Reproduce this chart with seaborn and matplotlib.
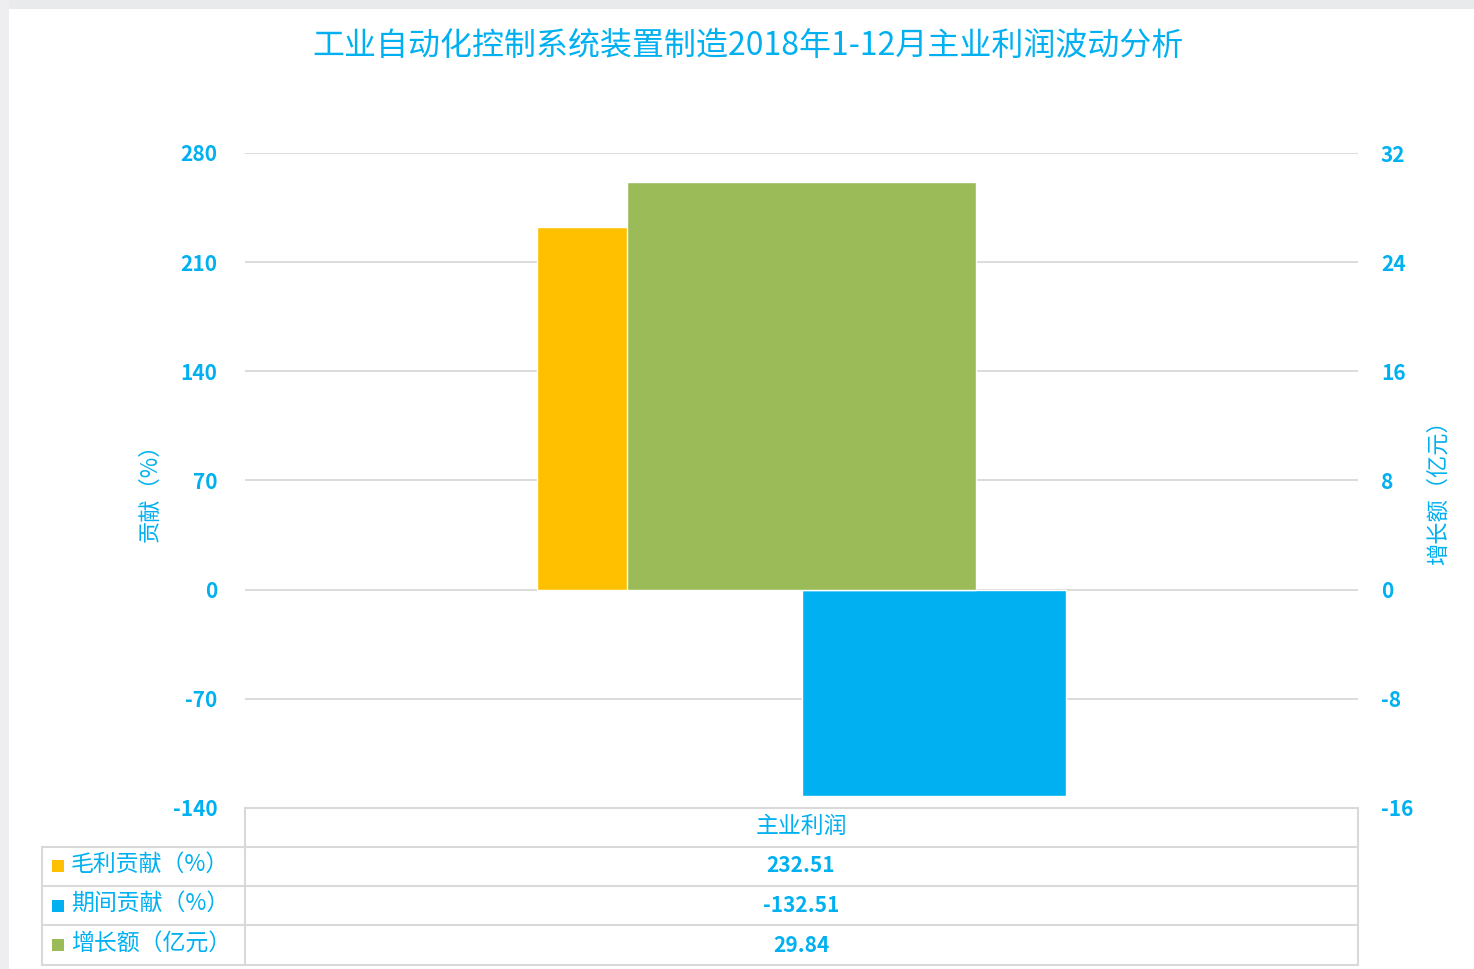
import pandas as pd
import seaborn as sns
import matplotlib.pyplot as plt
from matplotlib.lines import Line2D
from matplotlib.patches import Rectangle

# 数据
categories = ['主业利润']
series_left = ['毛利贡献（%）', '期间贡献（%）']
values_left = [232.51, -132.51]
series_right = ['增长额（亿元）']
values_right = [29.84]
colors = ['#FFC000', '#00B0F0', '#9BBB59']
left_ticks = [-140, -70, 0, 70, 140, 210, 280]
right_ticks = [-16, -8, 0, 8, 16, 24, 32]

txt = '#00B0F0'
grid_c = '#D9D9D9'

sns.set_style('white')
plt.rcParams['font.family'] = ['Noto Sans CJK SC', 'DejaVu Sans']
plt.rcParams['axes.unicode_minus'] = False

W, H = 1474, 969
fig = plt.figure(figsize=(W / 100, H / 100), dpi=100)

def fx(x):
    return x / W

def fy(y):
    return 1 - y / H

# 外框
fig.add_artist(Rectangle((0, fy(9)), 1, 9 / H, transform=fig.transFigure,
                         color='#E9EAEC', lw=0))
fig.add_artist(Rectangle((0, 0), 9 / W, 1, transform=fig.transFigure,
                         color='#EEEEF0', lw=0))

ax = fig.add_axes([fx(245), fy(808), fx(1358) - fx(245), fy(153) - fy(808)])

df = pd.DataFrame({'cat': categories * len(series_left),
                   'series': series_left,
                   'val': values_left})
sns.barplot(data=df, x='cat', y='val', hue='series', palette=colors[:2],
            width=0.476, ax=ax, legend=False, saturation=1)

ax.set_ylim(left_ticks[0], left_ticks[-1])
ax.set_yticks(left_ticks)
ax.set_xlim(-0.5, 0.5)
ax.set_xticks([])
ax.set_xlabel('')
ax.set_ylabel('贡献（%）', color=txt, fontsize=16)
ax.yaxis.set_label_coords((162 - 245) / 1113, 0.49)
ax.yaxis.grid(True, color=grid_c, lw=1.3)
ax.set_axisbelow(True)
for s in ax.spines.values():
    s.set_visible(False)
ax.tick_params(axis='y', length=0, pad=20, labelsize=15, labelcolor=txt)
for t in ax.get_yticklabels():
    t.set_fontweight('bold')

ax2 = ax.twinx()
df2 = pd.DataFrame({'cat': categories, 'val': values_right})
sns.barplot(data=df2, x='cat', y='val', color=colors[2], width=0.313,
            ax=ax2, saturation=1)
ax2.set_ylim(right_ticks[0], right_ticks[-1])
ax2.set_yticks(right_ticks)
ax2.set_xlim(-0.5, 0.5)
ax2.set_xticks([])
ax2.set_xlabel('')
ax2.set_ylabel('增长额（亿元）', color=txt, fontsize=16, rotation=90)
ax2.yaxis.set_label_coords((1427 - 245) / 1113, 0.49)
for s in ax2.spines.values():
    s.set_visible(False)
ax2.tick_params(axis='y', length=0, pad=16.5, labelsize=15, labelcolor=txt)
for t in ax2.get_yticklabels():
    t.set_fontweight('bold')

# 标题
fig.text(fx(748), fy(46), '工业自动化控制系统装置制造2018年1-12月主业利润波动分析',
         ha='center', va='center', fontsize=23, color=txt, fontweight='medium')

# 数据表
def hline(y, x0, x1):
    fig.add_artist(Line2D([fx(x0), fx(x1)], [fy(y), fy(y)], color=grid_c,
                          lw=1.5, transform=fig.transFigure))

def vline(x, y0, y1):
    fig.add_artist(Line2D([fx(x), fx(x)], [fy(y0), fy(y1)], color=grid_c,
                          lw=1.5, transform=fig.transFigure))

hline(808, 245, 1358)
for y in [847, 886, 925, 965]:
    hline(y, 42, 1358)
vline(245, 808, 965)
vline(1358, 808, 965)
vline(42, 847, 965)

fig.text(fx(801), fy(826), categories[0], ha='center', va='center',
         fontsize=16.5, color=txt)

row_names = series_left + series_right
row_vals = values_left + values_right
for i, (name, v) in enumerate(zip(row_names, row_vals)):
    yc = 866 + i * 39.5
    fig.add_artist(Rectangle((fx(52), fy(yc + 6)), 12 / W, 12 / H,
                             transform=fig.transFigure, color=colors[i], lw=0))
    fig.text(fx(71), fy(yc - 2), name, ha='left', va='center',
             fontsize=16.5, color=txt)
    fig.text(fx(801), fy(yc), f'{v:.2f}', ha='center', va='center',
             fontsize=15, color=txt, fontweight='bold')

fig.savefig('out.png', dpi=100)
